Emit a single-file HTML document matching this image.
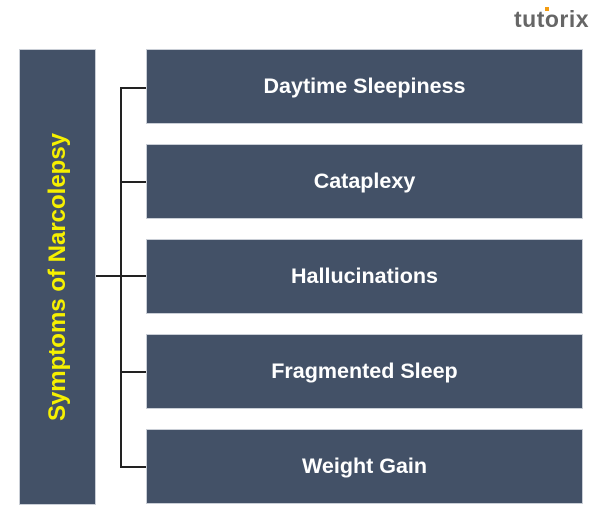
<!DOCTYPE html>
<html><head><style>
body{margin:0;width:600px;height:524px;background:#fff;position:relative;overflow:hidden;font-family:"Liberation Sans",sans-serif}
.b{position:absolute;background:#435167;border:1px solid #c9ced6;box-sizing:border-box}
.r{left:146px;width:437px;height:75px;color:#fff;font-weight:bold;font-size:21.5px;display:flex;align-items:center;justify-content:center}
.l{position:absolute;background:#222}
</style></head><body>
<div style="position:absolute;left:514px;top:6px;font-size:23px;font-weight:bold;color:#666;letter-spacing:0.5px">tutorix</div>
<div style="position:absolute;left:545px;top:7px;width:4px;height:4px;background:#f39c12"></div>
<div class="b" style="left:19px;top:49px;width:77px;height:456px"></div>
<div style="position:absolute;left:58px;top:277px;transform:translate(-50%,-50%) rotate(-90deg);white-space:nowrap;color:#f6f000;font-weight:bold;font-size:24px">Symptoms of Narcolepsy</div>
<div class="b r" style="top:49px">Daytime Sleepiness</div>
<div class="b r" style="top:144px">Cataplexy</div>
<div class="b r" style="top:239px">Hallucinations</div>
<div class="b r" style="top:334px">Fragmented Sleep</div>
<div class="b r" style="top:429px">Weight Gain</div>
<div class="l" style="left:120px;top:87px;width:2px;height:381px"></div>
<div class="l" style="left:96px;top:275px;width:25px;height:2px"></div>
<div class="l" style="left:120px;top:87px;width:26px;height:2px"></div>
<div class="l" style="left:120px;top:181px;width:26px;height:2px"></div>
<div class="l" style="left:120px;top:275px;width:26px;height:2px"></div>
<div class="l" style="left:120px;top:371px;width:26px;height:2px"></div>
<div class="l" style="left:120px;top:466px;width:26px;height:2px"></div>
</body></html>
